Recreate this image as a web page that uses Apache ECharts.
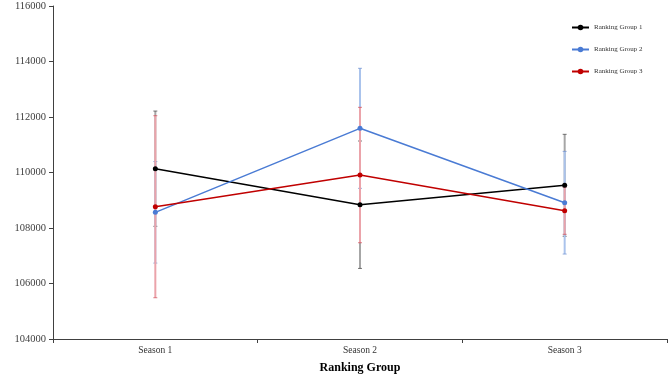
<!DOCTYPE html>
<html>
<head>
<meta charset="utf-8">
<script src="https://cdn.jsdelivr.net/npm/echarts@6/dist/echarts.min.js"></script>
<style>
html,body{margin:0;padding:0;background:#fff;}
#main{width:668px;height:377px;}
</style>
</head>
<body>
<div id="main"></div>
<script>
// 类别
var seasons = ['Season 1', 'Season 2', 'Season 3'];
// 各组均值
var g1Mean = [110137, 108839, 109538];
var g2Mean = [108565, 111592, 108911];
var g3Mean = [108767, 109909, 108623];
// 各组误差（±）
var g1Err = [2077, 2296, 1838];
var g2Err = [1830, 2163, 1850];
var g3Err = [3280, 2440, 851];
// y轴刻度
var yMin = 104000, yMax = 116000, yStep = 2000;

var serif = '"Liberation Serif", "DejaVu Serif", serif';

// 误差棒数据 [类别序号, 下限, 上限]
function errData(mean, err){
	var arr = [];
	for (var i = 0; i < mean.length; i++) {
		arr.push([i, mean[i] - err[i], mean[i] + err[i]]);
	}
	return arr;
}

// 误差棒：浅色竖线 + 深色端帽
function errSeries(name, mean, err, light, dark){
	return {
		name: name,
		type: 'custom',
		z: 1,
		silent: true,
		itemStyle: {color: dark},
		renderItem: function(params, api){
			var top = api.coord([api.value(0), api.value(2)]);
			var bot = api.coord([api.value(0), api.value(1)]);
			var w = 2;
			return {
				type: 'group',
				children: [
					{type: 'line', shape: {x1: top[0], y1: top[1], x2: bot[0], y2: bot[1]},
						style: {stroke: light, lineWidth: 2}},
					{type: 'line', shape: {x1: top[0] - w, y1: top[1], x2: top[0] + w, y2: top[1]},
						style: {stroke: dark, lineWidth: 1, opacity: 0.7}},
					{type: 'line', shape: {x1: bot[0] - w, y1: bot[1], x2: bot[0] + w, y2: bot[1]},
						style: {stroke: dark, lineWidth: 1, opacity: 0.7}}
				]
			};
		},
		data: errData(mean, err)
	};
}

function lineSeries(name, mean, color){
	return {
		name: name,
		type: 'line',
		z: 3,
		data: mean,
		symbol: 'circle',
		symbolSize: 5,
		itemStyle: {color: color},
		lineStyle: {color: color, width: 1.5}
	};
}

var c1 = '#000000', c2 = '#4a7bd4', c3 = '#c00000';

var myChart = echarts.init(document.getElementById('main'));
var option = {
	animation: false,
	backgroundColor: '#ffffff',
	legend: {
		data: ['Ranking Group 1', 'Ranking Group 2', 'Ranking Group 3'],
		orient: 'vertical',
		left: 566,
		top: 19,
		itemWidth: 17,
		itemHeight: 7,
		itemGap: 15,
		textStyle: {fontFamily: serif, fontSize: 7, color: '#333'}
	},
	grid: {left: 53, right: 1, top: 6, bottom: 38, containLabel: false, outerBoundsMode: 'none'},
	xAxis: {
		type: 'category',
		data: seasons,
		boundaryGap: true,
		axisLine: {lineStyle: {color: '#404040', width: 1}},
		axisTick: {show: true, length: 4, lineStyle: {color: '#404040'}},
		axisLabel: {fontFamily: serif, fontSize: 9.5, color: '#333', margin: 6},
		name: 'Ranking Group',
		nameLocation: 'middle',
		nameGap: 23,
		nameTextStyle: {fontFamily: serif, fontSize: 12, fontWeight: 'bold', color: '#000'}
	},
	yAxis: {
		type: 'value',
		min: yMin,
		max: yMax,
		interval: yStep,
		axisLine: {show: true, lineStyle: {color: '#404040', width: 1}},
		axisTick: {show: true, length: 4, lineStyle: {color: '#404040'}},
		splitLine: {show: false},
		axisLabel: {
			fontFamily: serif, fontSize: 10.5, color: '#404040', margin: 7,
			formatter: function(v){ return String(v); }
		},
		name: 'Total distance',
		nameLocation: 'middle',
		nameGap: 43,
		nameTextStyle: {fontFamily: serif, fontSize: 13, fontWeight: 'bold', color: '#000', padding: [0, 38, 0, 0]}
	},
	series: [
		errSeries('err1', g1Mean, g1Err, '#a6a6a6', '#404040'),
		errSeries('err2', g2Mean, g2Err, '#aac3ec', '#6d8fd0'),
		errSeries('err3', g3Mean, g3Err, '#eba3aa', '#d04a55'),
		lineSeries('Ranking Group 1', g1Mean, c1),
		lineSeries('Ranking Group 2', g2Mean, c2),
		lineSeries('Ranking Group 3', g3Mean, c3)
	]
};
myChart.setOption(option);
</script>
</body>
</html>
